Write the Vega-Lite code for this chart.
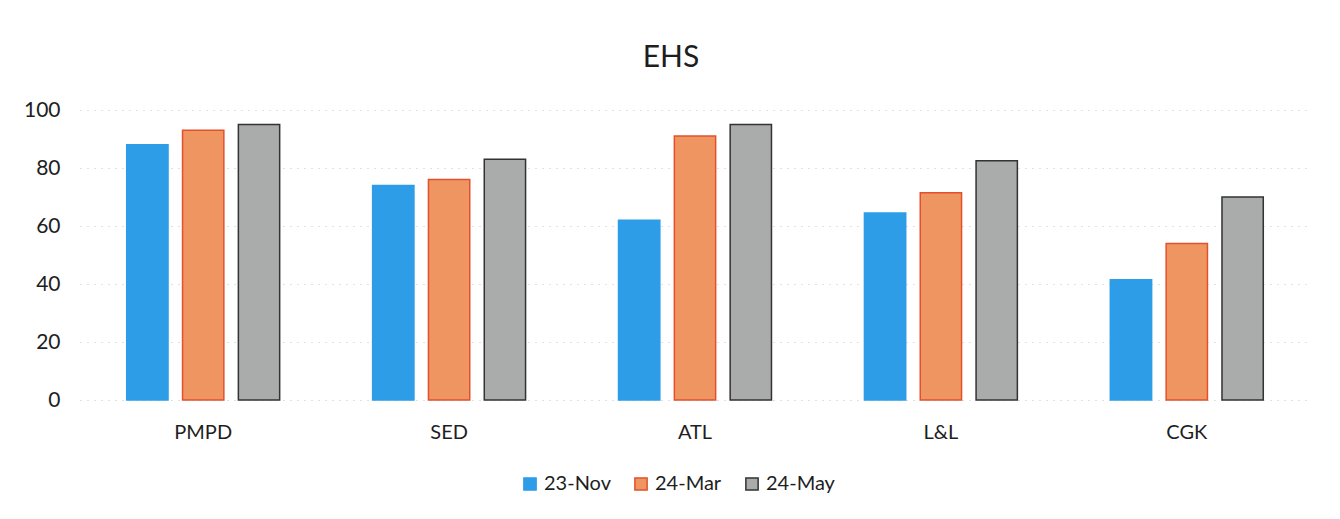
{
  "$schema": "https://vega.github.io/schema/vega-lite/v6.json",
  "autosize": "none",
  "padding": {"left": 80, "top": 110, "right": 30, "bottom": 119},
  "width": 1230,
  "height": 290,
  "background": "white",
  "config": {
    "view": {"stroke": "transparent"},
    "font": "Lato"
  },
  "title": {
    "text": "EHS",
    "fontSize": 30,
    "fontWeight": "normal",
    "color": "#1e1e1e",
    "offset": 26,
    "dx": -24
  },
  "data": {
    "values": [
      {"unit": "PMPD", "period": "23-Nov", "score": 88},
      {"unit": "PMPD", "period": "24-Mar", "score": 93},
      {"unit": "PMPD", "period": "24-May", "score": 95},
      {"unit": "SED", "period": "23-Nov", "score": 74},
      {"unit": "SED", "period": "24-Mar", "score": 76},
      {"unit": "SED", "period": "24-May", "score": 83},
      {"unit": "ATL", "period": "23-Nov", "score": 62},
      {"unit": "ATL", "period": "24-Mar", "score": 91},
      {"unit": "ATL", "period": "24-May", "score": 95},
      {"unit": "L&L", "period": "23-Nov", "score": 64.5},
      {"unit": "L&L", "period": "24-Mar", "score": 71.5},
      {"unit": "L&L", "period": "24-May", "score": 82.5},
      {"unit": "CGK", "period": "23-Nov", "score": 41.5},
      {"unit": "CGK", "period": "24-Mar", "score": 54},
      {"unit": "CGK", "period": "24-May", "score": 70}
    ]
  },
  "mark": {"type": "bar", "strokeWidth": 1.5},
  "encoding": {
    "x": {
      "field": "unit",
      "type": "nominal",
      "sort": null,
      "title": null,
      "scale": {"paddingInner": 0.378, "paddingOuter": 0.19},
      "axis": {
        "labelAngle": 0,
        "labelFontSize": 20,
        "labelColor": "#1e1e1e",
        "labelPadding": 22,
        "ticks": false,
        "domain": false
      }
    },
    "xOffset": {
      "field": "period",
      "type": "nominal",
      "scale": {"paddingInner": 0.26, "paddingOuter": 0}
    },
    "y": {
      "field": "score",
      "type": "quantitative",
      "title": null,
      "scale": {"domain": [0, 100]},
      "axis": {
        "values": [0, 20, 40, 60, 80, 100],
        "labelFontSize": 21,
        "labelColor": "#1e1e1e",
        "labelPadding": 20,
        "ticks": false,
        "domain": false,
        "gridColor": "#888888",
        "gridOpacity": 0.5,
        "gridDash": [1, 6],
        "gridWidth": 1
      }
    },
    "color": {
      "field": "period",
      "type": "nominal",
      "title": null,
      "scale": {
        "domain": ["23-Nov", "24-Mar", "24-May"],
        "range": ["#2d9de8", "#ef9562", "#a9acab"]
      },
      "legend": {
        "orient": "none",
        "direction": "horizontal",
        "legendX": 440,
        "legendY": 364,
        "symbolType": "square",
        "symbolSize": 150,
        "labelFontSize": 20,
        "labelColor": "#1e1e1e",
        "columnPadding": 20
      }
    },
    "stroke": {
      "field": "period",
      "type": "nominal",
      "scale": {
        "domain": ["23-Nov", "24-Mar", "24-May"],
        "range": ["#2d9de8", "#e2512c", "#333333"]
      },
      "legend": null
    }
  }
}
